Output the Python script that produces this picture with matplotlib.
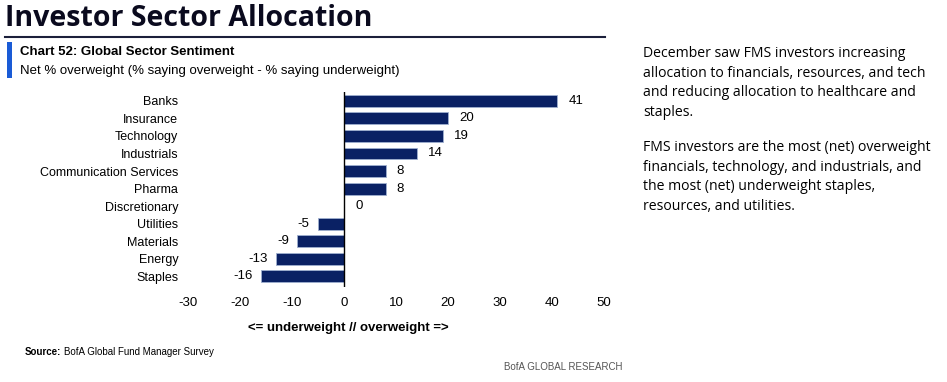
import matplotlib
matplotlib.use('Agg')
import matplotlib.pyplot as plt

sectors = ['Banks', 'Insurance', 'Technology', 'Industrials',
           'Communication Services', 'Pharma', 'Discretionary',
           'Utilities', 'Materials', 'Energy', 'Staples']
net_ow = [41, 20, 19, 14, 8, 8, 0, -5, -9, -13, -16]
xticks = [-30, -20, -10, 0, 10, 20, 30, 40, 50]

NAVY = '#0A2164'
COND = ['Liberation Sans', 'DejaVu Sans']

fig = plt.figure(figsize=(9.47, 3.82), dpi=100)
W, H = 947, 382

ax = fig.add_axes([188 / W, 1 - 287 / H, (604 - 188) / W, 195 / H])
y = list(range(len(sectors)))
ax.barh(y, net_ow, height=0.68, color=NAVY, edgecolor='#9fb0cf', lw=0.6)
ax.set_xlim(-30, 50)
ax.set_ylim(10.6, -0.5)
ax.axvline(0, color='black', lw=1.0)
ax.set_yticks(y)
ax.set_yticklabels(sectors, family=COND, fontsize=9)
ax.set_xticks(xticks)
ax.set_xticklabels([str(t) for t in xticks], family=COND, fontsize=9.5)
ax.tick_params(axis='both', length=0)
ax.tick_params(axis='x', pad=7)
ax.tick_params(axis='y', pad=7)
for sp in ax.spines.values():
    sp.set_visible(False)

for yi, v in zip(y, net_ow):
    if v >= 0:
        ax.annotate(str(v), (v, yi), xytext=(8, 0), textcoords='offset points',
                    ha='left', va='center', family=COND, fontsize=9.5)
    else:
        ax.annotate(str(v), (v, yi), xytext=(-6, 0), textcoords='offset points',
                    ha='right', va='center', family=COND, fontsize=9.5)

fig.text(348 / W, 1 - 328 / H, '<= underweight // overweight =>',
         ha='center', va='center', family=COND, fontsize=9.5, fontweight='bold')

# header
fig.text(5 / W, 1 - 19 / H, 'Investor Sector Allocation', ha='left', va='center',
         family='Open Sans', fontsize=20.5, fontweight='bold', color='#0a0a1e')
fig.add_artist(plt.Line2D([5 / W, 605 / W], [1 - 37 / H, 1 - 37 / H],
                          color='#1b1f3a', lw=1.5))
fig.add_artist(plt.Rectangle((7 / W, 1 - 78 / H), 5 / W, 36 / H,
                             color='#1a5bd6', lw=0))
fig.text(20 / W, 1 - 52 / H, 'Chart 52: Global Sector Sentiment', ha='left',
         va='center', family=COND, fontsize=9.5, fontweight='bold')
fig.text(20 / W, 1 - 71 / H,
         'Net % overweight (% saying overweight - % saying underweight)',
         ha='left', va='center', family=COND, fontsize=9.5)

# footer
src = fig.text(25 / W, 1 - 352 / H, 'Source:', ha='left', va='center',
               family=COND, fontsize=7, fontweight='bold')
fig.canvas.draw()
bb = src.get_window_extent()
fig.text((bb.x1 + 3) / W, 1 - 352 / H, 'BofA Global Fund Manager Survey',
         ha='left', va='center', family=COND, fontsize=7)
fig.text(622 / W, 1 - 367 / H, 'BofA GLOBAL RESEARCH', ha='right', va='center',
         family=COND, fontsize=7, color='#555555')

# commentary
para1 = ('December saw FMS investors increasing\n'
         'allocation to financials, resources, and tech\n'
         'and reducing allocation to healthcare and\n'
         'staples.')
para2 = ('FMS investors are the most (net) overweight\n'
         'financials, technology, and industrials, and\n'
         'the most (net) underweight staples,\n'
         'resources, and utilities.')
fig.text(643 / W, 1 - 46 / H, para1, ha='left', va='top', family='Open Sans',
         fontsize=10.1, linespacing=1.42)
fig.text(643 / W, 1 - 140 / H, para2, ha='left', va='top', family='Open Sans',
         fontsize=10.1, linespacing=1.42)

fig.savefig('out.png', dpi=100, facecolor='white')
